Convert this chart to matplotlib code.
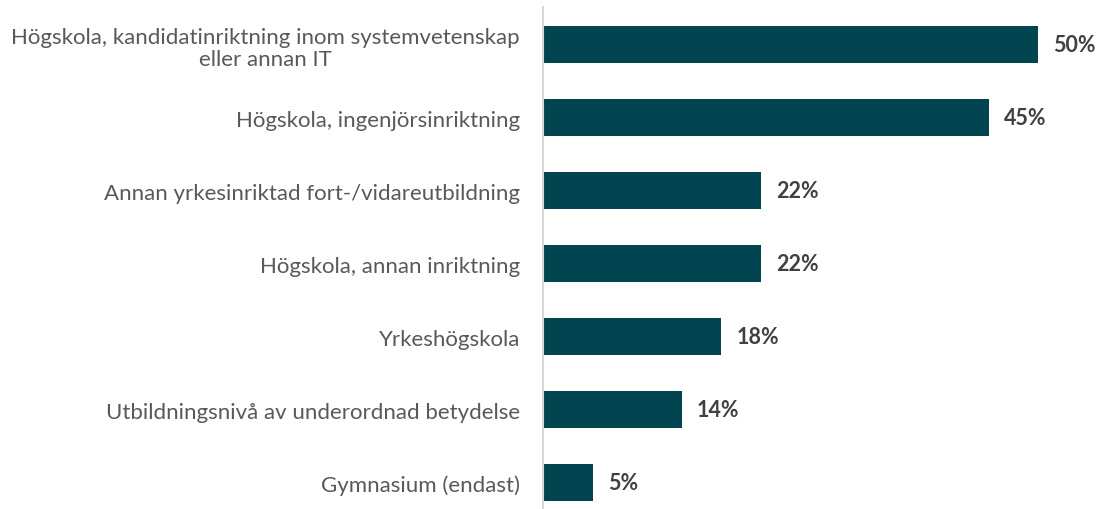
import matplotlib
matplotlib.use("Agg")
import matplotlib.pyplot as plt

categories = [
    "Högskola, kandidatinriktning inom systemvetenskap\neller annan IT",
    "Högskola, ingenjörsinriktning",
    "Annan yrkesinriktad fort-/vidareutbildning",
    "Högskola, annan inriktning",
    "Yrkeshögskola",
    "Utbildningsnivå av underordnad betydelse",
    "Gymnasium (endast)",
]
values = [50, 45, 22, 22, 18, 14, 5]

plt.rcParams['font.family'] = ['Lato', 'DejaVu Sans']

W, H = 1098, 510
fig = plt.figure(figsize=(W / 100, H / 100), dpi=100)
left_px, top_px = 543, 8
ax = fig.add_axes([left_px / W, 0, 1 - left_px / W, 1 - top_px / H])

ypos = list(range(len(categories)))
ax.barh(ypos, values, height=0.5, color="#024450")
ax.set_ylim(6.363, -0.516)
ax.set_xlim(0, (W - left_px) / 9.9)

ax.set_yticks(ypos)
ax.set_yticklabels(categories, fontsize=16, color="#595959")
ax.tick_params(axis="y", length=0, pad=16.5)
for lbl in ax.get_yticklabels():
    lbl.set_multialignment("center")
    lbl.set_linespacing(1.15)
ax.set_xticks([])

for s in ["top", "right", "bottom"]:
    ax.spines[s].set_visible(False)
ax.spines["left"].set_color("#d9d9d9")
ax.spines["left"].set_linewidth(1.5)

for y, v in zip(ypos, values):
    ax.annotate(f"{v}%", (v, y), xytext=(11, 0), textcoords="offset points",
                va="center", ha="left", fontsize=15.5, fontweight="bold", color="#404040")

fig.savefig("out.png", dpi=100)
